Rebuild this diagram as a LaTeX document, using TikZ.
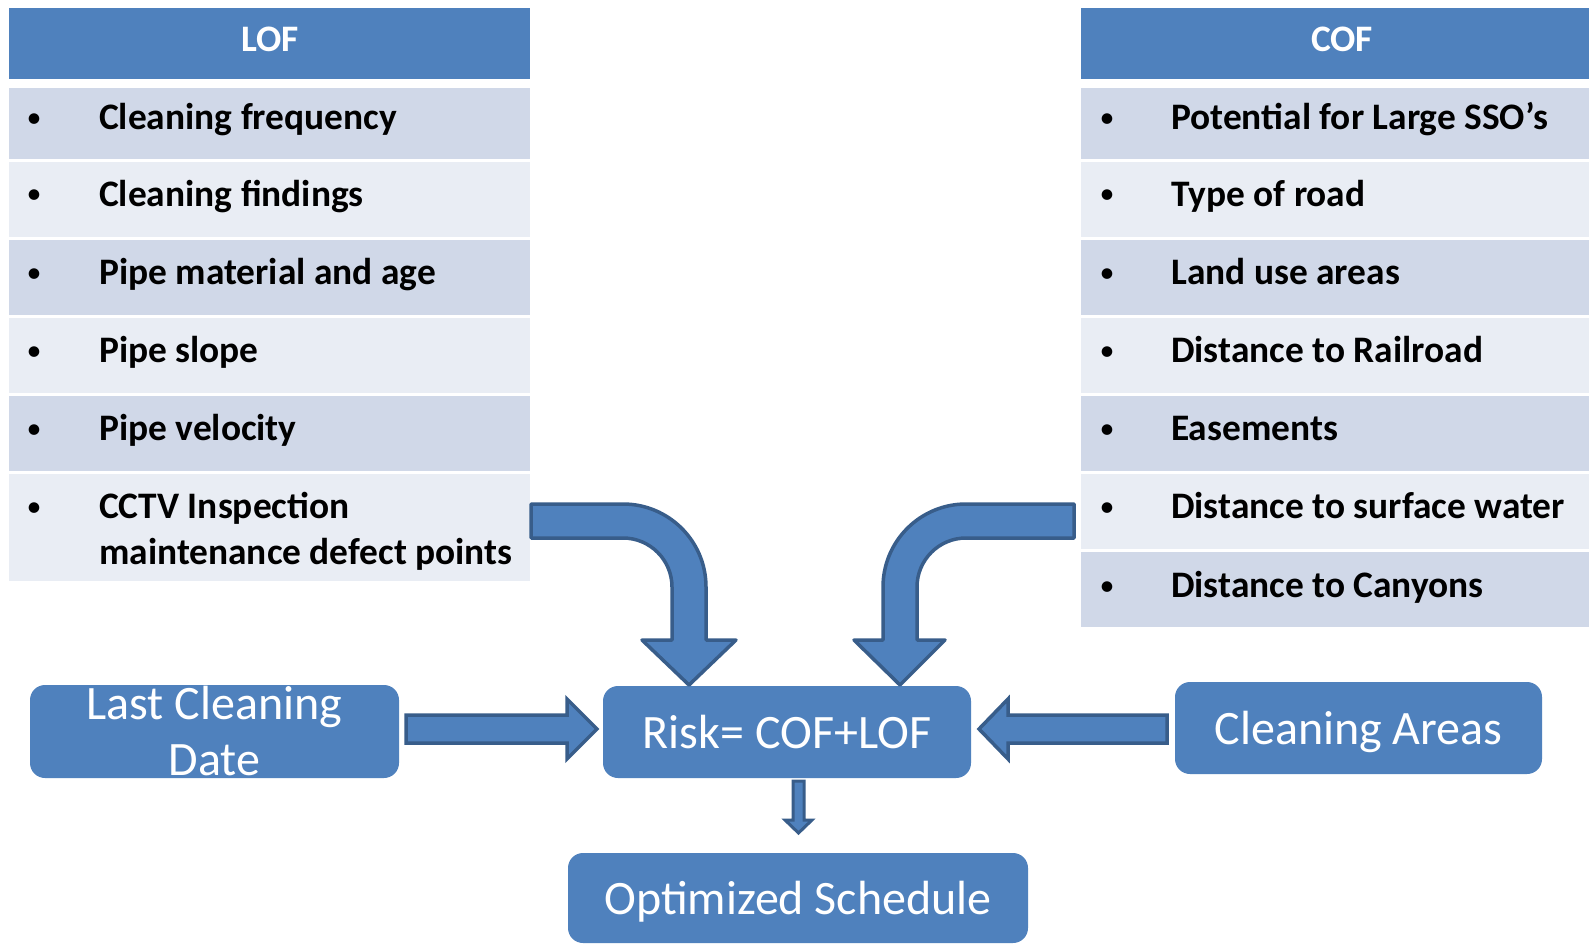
\documentclass[tikz,border=0pt]{standalone}
\usepackage{fontspec}
\setmainfont{Carlito}
\usetikzlibrary{calc}
\definecolor{hblue}{HTML}{4F81BD}
\definecolor{hline}{HTML}{385D8A}
\definecolor{rowdark}{HTML}{D0D8E8}
\definecolor{rowlight}{HTML}{E9EDF4}
\newcommand{\itemfnt}{\fontsize{37.4}{44}\selectfont\bfseries}
\newcommand{\bulfnt}{\fontsize{30}{44}\selectfont}
\newcommand{\boxfnt}{\fontsize{48}{56}\selectfont}
\begin{document}
\begin{tikzpicture}[x=1pt,y=-1pt,
  hdrtxt/.style={anchor=base, inner sep=0pt, text=white, font=\itemfnt},
  itm/.style={anchor=base west, inner sep=0pt, font=\itemfnt},
  bul/.style={anchor=base, inner sep=0pt, font=\bulfnt},
  bluebox/.style={fill=hblue, draw=none, rounded corners=15pt, inner sep=0pt,
    text=white, font=\boxfnt, align=center},
  oneline/.style={text depth=0pt},
  blockarrow/.style={fill=hblue, draw=hline, line width=3.5pt, line join=round}]
\useasboundingbox (0,0) rectangle (1589,944);
\fill[white] (0,0) rectangle (1589,944);
% LOF table
\fill[hblue] (9,8) rectangle (530,79);
\node[hdrtxt] (lofh) at (270,52) {LOF};
\fill[rowdark]  (9,88)  rectangle (530,159);
\fill[rowlight] (9,162) rectangle (530,237);
\fill[rowdark]  (9,240) rectangle (530,315);
\fill[rowlight] (9,318) rectangle (530,393);
\fill[rowdark]  (9,396) rectangle (530,471);
\fill[rowlight] (9,474) rectangle (530,581);
\node[bul] (lb1) at (34,128) {•};
\node[itm] (lt1) at (99,130) {Cleaning frequency};
\node[bul] (lb2) at (34,204) {•};
\node[itm] (lt2) at (99,206) {Cleaning findings};
\node[bul] (lb3) at (34,282) {•};
\node[itm] (lt3) at (99,284) {Pipe material and age};
\node[bul] (lb4) at (34,360) {•};
\node[itm] (lt4) at (99,362) {Pipe slope};
\node[bul] (lb5) at (34,438) {•};
\node[itm] (lt5) at (99,440) {Pipe velocity};
\node[bul] (lb6) at (34,516) {•};
\node[itm] (lt6) at (99,518) {CCTV Inspection};
\node[itm] (lt7) at (99,564) {maintenance defect points};
% COF table
\fill[hblue] (1081,8) rectangle (1589,79);
\node[hdrtxt] (cofh) at (1342,52) {COF};
\fill[rowdark]  (1081,88)  rectangle (1589,159);
\fill[rowlight] (1081,162) rectangle (1589,237);
\fill[rowdark]  (1081,240) rectangle (1589,315);
\fill[rowlight] (1081,318) rectangle (1589,393);
\fill[rowdark]  (1081,396) rectangle (1589,471);
\fill[rowlight] (1081,474) rectangle (1589,549);
\fill[rowdark]  (1081,552) rectangle (1589,627);
\node[bul] (cb1) at (1107,128) {•};
\node[itm] (ct1) at (1171,130) {Potential for Large SSO’s};
\node[bul] (cb2) at (1107,204) {•};
\node[itm] (ct2) at (1171,206) {Type of road};
\node[bul] (cb3) at (1107,282) {•};
\node[itm] (ct3) at (1171,284) {Land use areas};
\node[bul] (cb4) at (1107,360) {•};
\node[itm] (ct4) at (1171,362) {Distance to Railroad};
\node[bul] (cb5) at (1107,438) {•};
\node[itm] (ct5) at (1171,440) {Easements};
\node[bul] (cb6) at (1107,516) {•};
\node[itm] (ct6) at (1171,518) {Distance to surface water};
\node[bul] (cb7) at (1107,595) {•};
\node[itm] (ct7) at (1171,597) {Distance to Canyons};
% boxes
\node[bluebox, minimum width=369pt, minimum height=93pt] (last) at (214.5,731.5) {Last Cleaning\\Date};
\node[bluebox, oneline, minimum width=368pt, minimum height=92pt] (risk) at (787,732) {Risk= COF+LOF};
\node[bluebox, oneline, minimum width=367pt, minimum height=92pt] (areas) at (1358.5,728) {Cleaning Areas};
\node[bluebox, oneline, minimum width=460pt, minimum height=90pt] (opt) at (798,898) {Optimized Schedule};
% curved arrows
\draw[blockarrow] (531,504) -- (623,504) arc[start angle=-90, end angle=0, radius=83]
  -- (706,640) -- (736,640) -- (689,685) -- (642,640) -- (672,640) -- (672,587)
  arc[start angle=0, end angle=-90, radius=49] -- (531,538) -- cycle;
\draw[blockarrow] (1074,504) -- (966,504) arc[start angle=-90, end angle=-180, radius=83]
  -- (883,640) -- (854,640) -- (900,685) -- (945,640) -- (917,640) -- (917,587)
  arc[start angle=-180, end angle=-90, radius=49] -- (1074,538) -- cycle;
% straight arrows
\draw[blockarrow, line join=miter] (406,715) -- (567,715) -- (567,699) -- (597,729) -- (567,759) -- (567,743) -- (406,743) -- cycle;
\draw[blockarrow, line join=miter] (1167,715) -- (1008,715) -- (1008,699) -- (979,729) -- (1008,759) -- (1008,743) -- (1167,743) -- cycle;
\draw[blockarrow, line width=3pt, line join=miter] (793,781) -- (804,781) -- (804,820) -- (812,820) -- (798.5,833) -- (785,820) -- (793,820) -- cycle;
\end{tikzpicture}
\end{document}
